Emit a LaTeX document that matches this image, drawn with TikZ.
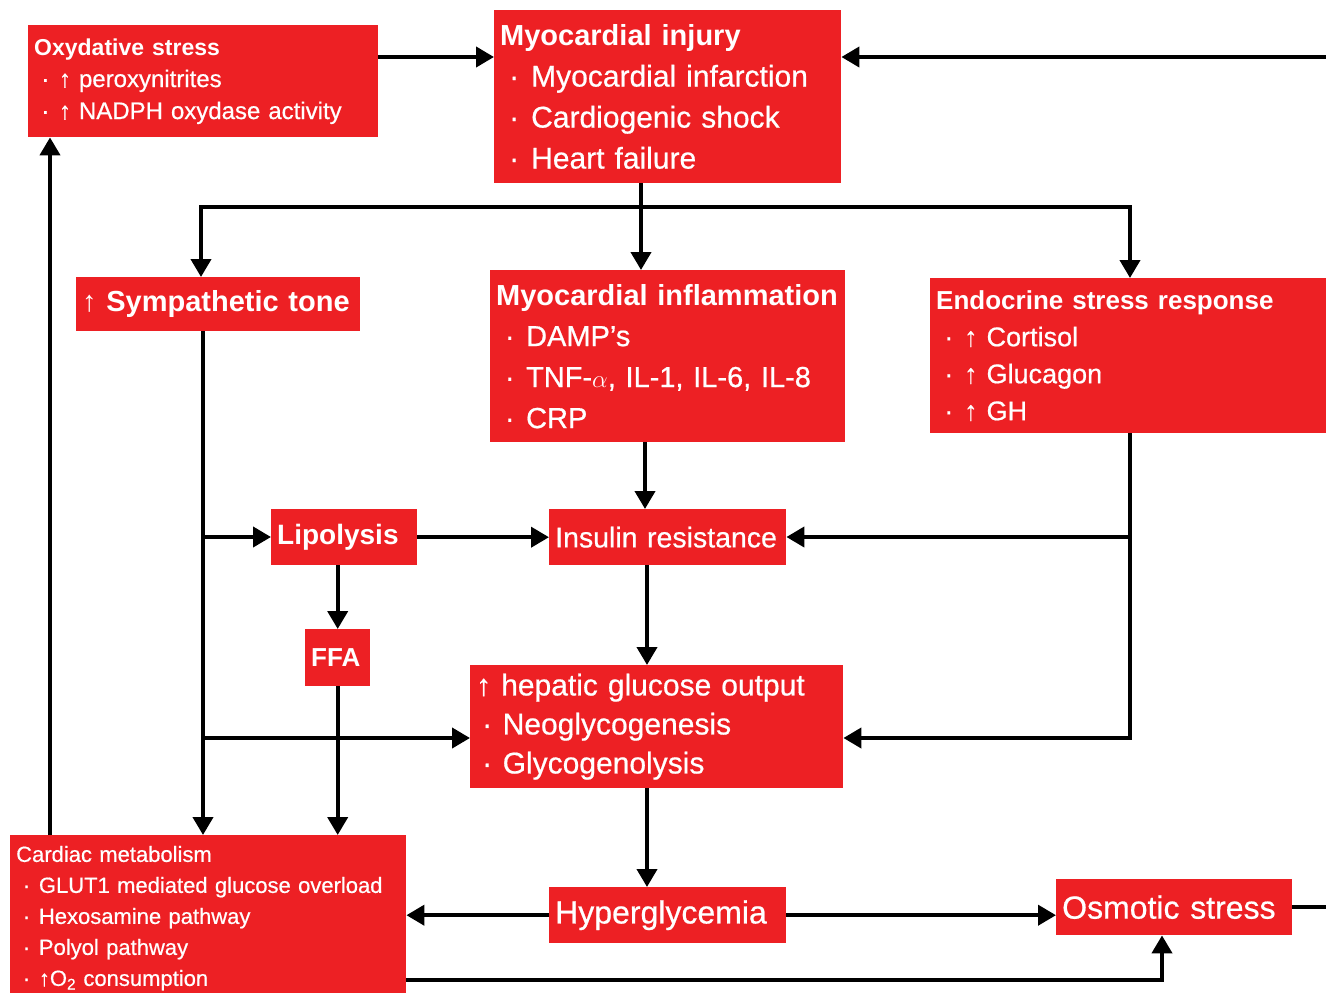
\documentclass[tikz,border=0pt]{standalone}
\usepackage{fontspec}
\setmainfont{Liberation Sans}[UprightFeatures={FakeBold=0.6}]
\usetikzlibrary{arrows.meta}
\definecolor{boxred}{RGB}{237,32,36}
\newcommand\itm{\hspace*{0.3em}·\hspace{0.4em}}
\newcommand\upar{↑}
\begin{document}
\begin{tikzpicture}[x=1pt,y=-1pt,
  box/.style={rectangle, fill=boxred, text=white, anchor=north west, inner xsep=6pt, inner ysep=0pt, align=left},
  arr/.style={line width=4pt, -{Triangle[length=18pt,width=20pt]}},
  conn/.style={line width=4pt}]
\useasboundingbox (0,0) rectangle (1326,993);

% boxes
\node[box, minimum width=350pt, minimum height=112pt, text width=338pt, font=\fontsize{24}{32}\selectfont] (ox) at (28,25)
  {{\bfseries\fontsize{23}{32}\selectfont Oxydative stress}\\ \itm\upar\ peroxynitrites\\ \itm\upar\ NADPH oxydase activity};
\node[box, minimum width=347pt, minimum height=173pt, text width=335pt, font=\fontsize{30}{41}\selectfont] (inj) at (494,10)
  {{\bfseries\fontsize{29}{41}\selectfont Myocardial injury}\\ \itm Myocardial infarction\\ \itm Cardiogenic shock\\ \itm Heart failure};
\node[box, minimum width=284pt, minimum height=54pt, text width=272pt, font=\bfseries\fontsize{29}{36}\selectfont] (sym) at (76,277)
  {\mbox{\upar\ Sympathetic tone}};
\node[box, minimum width=355pt, minimum height=172pt, text width=343pt, font=\fontsize{29}{41}\selectfont] (infl) at (490,270)
  {{\bfseries Myocardial inflammation}\\ \itm DAMP’s\\ \itm TNF-$\alpha$, IL-1, IL-6, IL-8\\ \itm CRP};
\node[box, minimum width=420pt, minimum height=155pt, text width=408pt, font=\fontsize{27}{37}\selectfont] (endo) at (930,278)
  {{\bfseries\fontsize{26}{37}\selectfont Endocrine stress response}\\ \itm\upar\ Cortisol\\ \itm\upar\ Glucagon\\ \itm\upar\ GH};
\node[box, minimum width=146pt, minimum height=56pt, text width=134pt, font=\bfseries\fontsize{28}{34}\selectfont] (lip) at (271,509)
  {\mbox{Lipolysis}};
\node[box, minimum width=237pt, minimum height=56pt, text width=225pt, font=\fontsize{28.5}{34}\selectfont] (ins) at (549,509)
  {\mbox{Insulin resistance}};
\node[box, minimum width=65pt, minimum height=57pt, text width=53pt, font=\bfseries\fontsize{26}{32}\selectfont] (ffa) at (305,629)
  {\mbox{FFA}};
\node[box, minimum width=373pt, minimum height=123pt, text width=361pt, font=\fontsize{30}{39}\selectfont] (hep) at (470,665)
  {\upar\ hepatic glucose output\\ \hspace*{0.2em}·\hspace{0.35em}Neoglycogenesis\\ \hspace*{0.2em}·\hspace{0.35em}Glycogenolysis};
\node[box, minimum width=396pt, minimum height=166pt, text width=384pt, font=\fontsize{22}{31}\selectfont] (cm) at (10,835)
  {Cardiac metabolism\\ \itm GLUT1 mediated glucose overload\\ \itm Hexosamine pathway\\ \itm Polyol pathway\\ \itm\upar O\textsubscript{2} consumption};
\node[box, minimum width=237pt, minimum height=56pt, text width=225pt, font=\fontsize{32}{38}\selectfont] (hyp) at (549,887)
  {\mbox{Hyperglycemia}};
\node[box, minimum width=236pt, minimum height=56pt, text width=224pt, font=\fontsize{32}{38}\selectfont] (osm) at (1056,879)
  {\mbox{Osmotic stress}};

% junction coordinates
\coordinate (split) at (641,207);
\coordinate (j1) at (203,537);
\coordinate (j2) at (203,738);
\coordinate (j3) at (1130,537);
\coordinate (j4) at (1130,738);
\coordinate (rt2) at (1345,57);
\coordinate (lp) at (1162,980);

% connectors
\draw[arr] (ox.east |- rt2) -- (inj.west |- rt2);
\draw[arr] (osm.east) -- (osm.east -| rt2) -- (rt2) -- (inj.east |- rt2);
\draw[arr] (inj.south -| split) -- (infl.north -| split);
\draw[arr] (split) -| (sym.north -| 201,0);
\draw[arr] (split) -| (endo.north -| j3);
\draw[arr] (sym.south -| j1) -- (cm.north -| j1);
\draw[arr] (j1) -- (lip.west |- j1);
\draw[arr] (j2) -- (hep.west |- j2);
\draw[arr] (lip.east) -- (ins.west);
\draw[arr] (lip.south -| ffa.north) -- (ffa.north);
\draw[arr] (ffa.south) -- (cm.north -| ffa.south);
\draw[arr] (infl.south -| 645,0) -- (ins.north -| 645,0);
\draw[arr] (endo.south -| j4) -- (j4) -- (hep.east |- j4);
\draw[arr] (j3) -- (ins.east |- j3);
\draw[arr] (ins.south -| 647,0) -- (hep.north -| 647,0);
\draw[arr] (hep.south -| 647,0) -- (hyp.north -| 647,0);
\draw[arr] (hyp.west) -- (cm.east |- hyp.west);
\draw[arr] (hyp.east) -- (osm.west |- hyp.east);
\draw[arr] (cm.east |- lp) -| (osm.south -| lp);
\draw[arr] (cm.north -| 50,0) -- (ox.south -| 50,0);
\end{tikzpicture}
\end{document}
